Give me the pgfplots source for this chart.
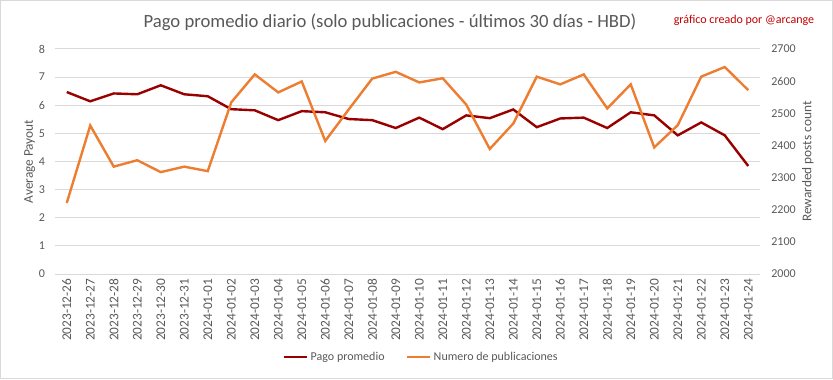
\documentclass[border=0pt]{standalone}
\usepackage{pgfplots}
\pgfplotsset{compat=1.18}
\usepackage{fontspec}
\setmainfont{Carlito}
\definecolor{dred}{RGB}{153,0,0}
\definecolor{orng}{RGB}{237,125,49}
\definecolor{txt}{RGB}{89,89,89}
\definecolor{grd}{RGB}{217,217,217}
\definecolor{credit}{RGB}{192,0,0}
\begin{document}
\begin{tikzpicture}
\pgfplotsset{
  base/.style={scale only axis, width=528.75pt, height=168.75pt,
    at={(41.25pt,78.75pt)}, anchor=south west,
    xmin=-0.5, xmax=29.5,
    /pgf/number format/assume math mode=true,
    /pgf/number format/1000 sep={},
    tick style={draw=none},
    axis line style={draw=none},
    ticklabel style={font=\fontsize{9}{10}\selectfont, text=txt},
    label style={font=\fontsize{10}{12}\selectfont, text=txt},
  }
}
\begin{axis}[base,
  ymin=0, ymax=8, ytick={0,1,...,8},
  ymajorgrids, grid style={grd, line width=0.75pt},
  xtick={0,1,...,29},
  xticklabels={2023-12-26,2023-12-27,2023-12-28,2023-12-29,2023-12-30,2023-12-31,2024-01-01,2024-01-02,2024-01-03,2024-01-04,2024-01-05,2024-01-06,2024-01-07,2024-01-08,2024-01-09,2024-01-10,2024-01-11,2024-01-12,2024-01-13,2024-01-14,2024-01-15,2024-01-16,2024-01-17,2024-01-18,2024-01-19,2024-01-20,2024-01-21,2024-01-22,2024-01-23,2024-01-24},
  x tick label style={rotate=90, anchor=east, font=\fontsize{10}{11}\selectfont},
  yticklabel style={xshift=-4pt},
  ylabel={Average Payout},
  ylabel style={yshift=-4pt},
]
\addplot[dred, line width=1.8pt, no marks] coordinates {
(0,6.47) (1,6.14) (2,6.42) (3,6.39) (4,6.71) (5,6.39) (6,6.32) (7,5.86) (8,5.82) (9,5.47)
(10,5.79) (11,5.75) (12,5.51) (13,5.47) (14,5.19) (15,5.56) (16,5.15) (17,5.64) (18,5.54) (19,5.85)
(20,5.22) (21,5.53) (22,5.56) (23,5.19) (24,5.75) (25,5.64) (26,4.93) (27,5.39) (28,4.93) (29,3.84)
};
\end{axis}
\begin{axis}[base,
  ymin=2000, ymax=2700, ytick={2000,2100,...,2700},
  axis y line*=right, axis x line=none,
  yticklabel style={xshift=5pt},
  ylabel={Rewarded posts count},
  ylabel style={yshift=2pt},
  legend style={at={(0.52,-0.37)}, anchor=center, draw=none, legend columns=2,
    font=\fontsize{9}{10}\selectfont, text=txt,
    /tikz/every even column/.append style={column sep=14pt}},
  legend cell align=left,
]
\addlegendimage{dred, line width=1.8pt}
\addlegendentry{Pago promedio}
\addplot[orng, line width=1.8pt, no marks] coordinates {
(0,2221) (1,2462) (2,2334) (3,2354) (4,2317) (5,2334) (6,2320) (7,2534) (8,2621) (9,2565)
(10,2599) (11,2414) (12,2512) (13,2608) (14,2629) (15,2596) (16,2609) (17,2527) (18,2389) (19,2468)
(20,2614) (21,2590) (22,2621) (23,2515) (24,2590) (25,2394) (26,2463) (27,2614) (28,2644) (29,2572)
};
\addlegendentry{Numero de publicaciones}
\end{axis}
\node[text=txt, font=\fontsize{14}{16}\selectfont] at (292.5pt,267.75pt) {Pago promedio diario (solo publicaciones - últimos 30 días - HBD)};
\node[text=credit, font=\fontsize{9}{10}\selectfont] at (558pt,269pt) {gráfico creado por @arcange};
\draw[grd, line width=0.75pt] (0.375pt,0.375pt) rectangle (624.375pt,283.875pt);
\pgfresetboundingbox
\useasboundingbox (0,0) rectangle (624.75pt,284.25pt);
\end{tikzpicture}
\end{document}
